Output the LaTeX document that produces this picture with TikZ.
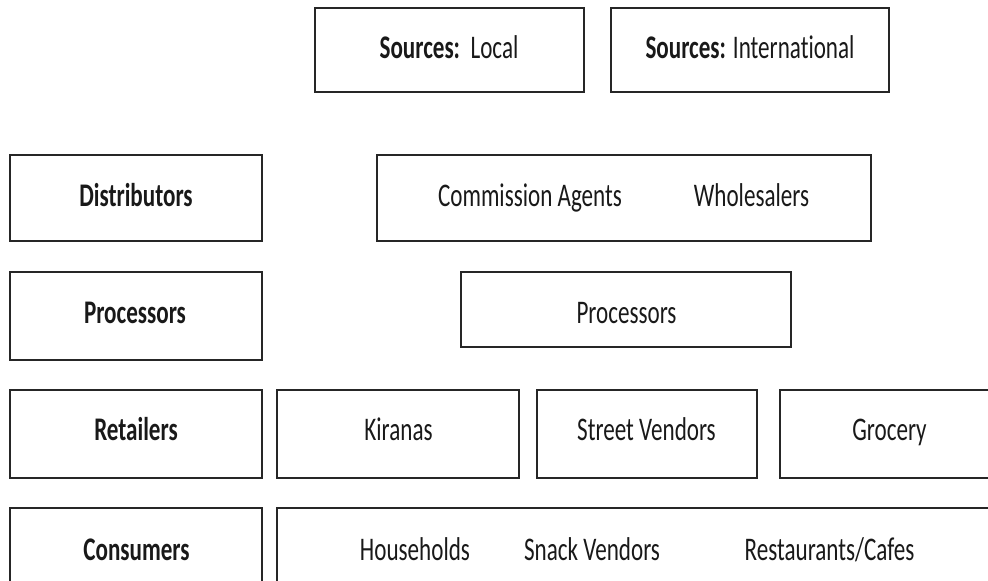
\documentclass[tikz,border=0pt]{standalone}
\usepackage{fontspec}
\usepackage{graphicx}
\setmainfont{Carlito}[Ligatures=NoCommon]
\newcommand{\sq}[1]{\scalebox{0.7}[1]{#1}}
\newcommand{\bx}[5]{\node[box, anchor=north west, minimum width={#4-#2}, minimum height={#5-#3}] (#1) at (#2,#3) {};}
\begin{document}
\begin{tikzpicture}[x=1pt,y=-1pt,
  box/.style={draw=black!85, line width=1.5pt, inner sep=0pt, outer sep=0pt, rectangle},
  txt/.style={font=\fontsize{33}{40}\selectfont, inner sep=0pt, anchor=base, text=black!90}]
\useasboundingbox (0,0) rectangle (988,581);
\clip (0,0) rectangle (988,581);
% boxes
\bx{local}{315}{8}{584}{92}
\bx{intl}{611}{8}{889}{92}
\bx{distL}{10}{155}{262}{241}
\bx{dist}{377}{155}{871}{241}
\bx{procL}{10}{272}{262}{360}
\bx{proc}{461}{272}{791}{347}
\bx{retL}{10}{390}{262}{478}
\bx{kir}{277}{390}{519}{478}
\bx{street}{537}{390}{757}{478}
\bx{groc}{780}{390}{1000}{478}
\bx{consL}{10}{508}{262}{600}
\bx{cons}{277}{508}{1000}{600}
% texts
\node[txt] (tlocal) at (449,58) {\sq{\textbf{Sources:}\ \ Local}};
\node[txt] (tintl) at (750,58) {\sq{\textbf{Sources:} International}};
\node[txt] (tdistL) at (136,206) {\sq{\textbf{Distributors}}};
\node[txt] (tca) at (530,206) {\sq{Commission Agents}};
\node[txt] (twh) at (751.5,206) {\sq{Wholesalers}};
\node[txt] (tprocL) at (135,323) {\sq{\textbf{Processors}}};
\node[txt] (tproc) at (626.5,323) {\sq{Processors}};
\node[txt] (tretL) at (136,440) {\sq{\textbf{Retailers}}};
\node[txt] (tkir) at (398.5,440) {\sq{Kiranas}};
\node[txt] (tstreet) at (646.5,440) {\sq{Street Vendors}};
\node[txt] (tgroc) at (889.5,440) {\sq{Grocery}};
\node[txt] (tconsL) at (136.5,560) {\sq{\textbf{Consumers}}};
\node[txt] (thh) at (415,560) {\sq{Households}};
\node[txt] (tsnack) at (592,560) {\sq{Snack Vendors}};
\node[txt] (trest) at (829.5,560) {\sq{Restaurants/Cafes}};
\end{tikzpicture}
\end{document}
